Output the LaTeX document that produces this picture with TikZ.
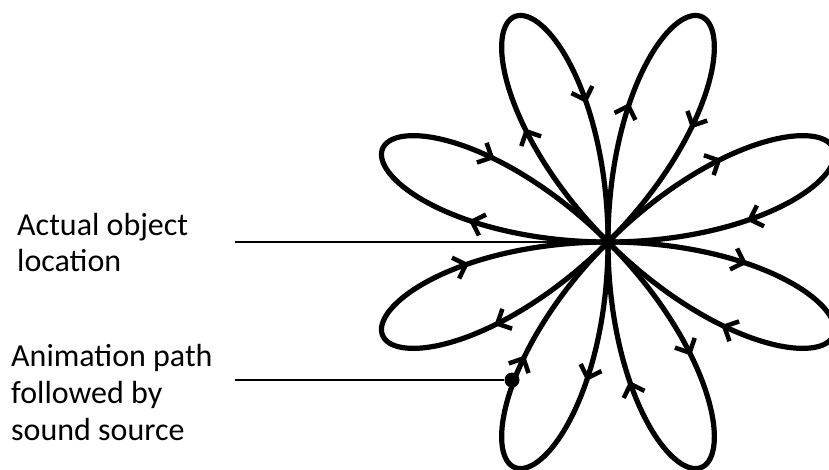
\documentclass[tikz,border=0pt]{standalone}
\usepackage{fontspec}
\setmainfont{Carlito}
\usetikzlibrary{decorations.markings,arrows.meta}
\tikzset{
  petal/.style={line width=5.2pt, line cap=round, line join=round,
    postaction={decorate},
    decoration={markings,
      mark=at position 0.27 with {\arrow[line width=4.5pt]{Straight Barb[length=11pt,width=22pt]}},
      mark=at position 0.73 with {\arrow[line width=4.5pt]{Straight Barb[length=11pt,width=22pt]}}}},
  conn/.style={line width=2.5pt},
  lbl/.style={font=\fontsize{32}{36.7}\selectfont, align=left, inner sep=0pt, anchor=base west},
  srcdot/.style={circle, fill=black, inner sep=0pt, minimum size=15pt}}
\begin{document}
\begin{tikzpicture}[x=1pt,y=-1pt]
\useasboundingbox (0,0) rectangle (829,469);
\fill[white] (0,0) rectangle (829,469);
\begin{scope}
\clip (0,0) rectangle (829,469);
\foreach \a in {112.5,67.5,22.5,-22.5,-67.5,-112.5,-157.5,157.5}{
  \draw[petal] plot[domain=-22.5:22.5, samples=90, smooth, variable=\t]
    ({608+244*cos(4*\t)*cos(\a-\t)}, {242-244*cos(4*\t)*sin(\a-\t)});
}
\end{scope}
\coordinate (c) at (608,242);
\coordinate (s1) at (235,242);
\coordinate (s2) at (235,380);
\node[srcdot] (dot) at (512,380) {};
\draw[conn] (s1) -- (c);
\draw[conn] (s2) -- (dot);
\node[lbl] (t1) at (17,271.7) {Actual object\\location};
\node[lbl] (t2) at (11,440) {Animation path\\followed by\\sound source};
\end{tikzpicture}
\end{document}
